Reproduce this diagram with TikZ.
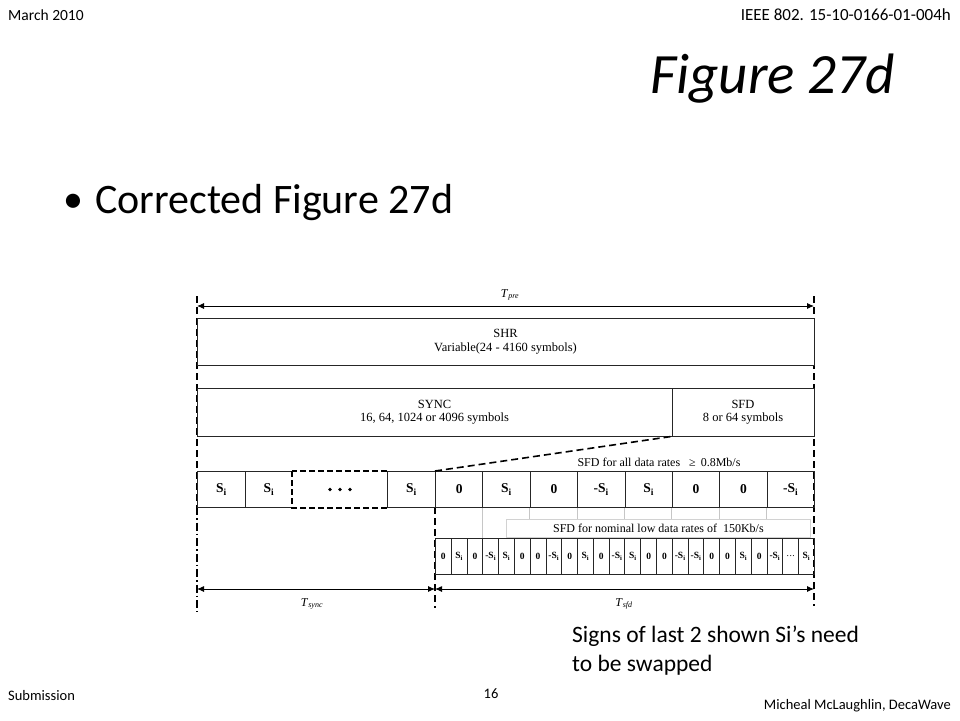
\documentclass[tikz,border=0pt]{standalone}
\usepackage{fontspec}
\setmainfont{Liberation Serif}
\newfontfamily\slidefont{Carlito}
\usetikzlibrary{arrows.meta}
\newcommand\fs[1]{\fontsize{#1}{#1}\selectfont}
\newcommand\Si{\textbf{S}\textsubscript{\textbf{i}}}
\newcommand\mSi{\textbf{-S}\textsubscript{\textbf{i}}}
\newcommand\celldots{{\mdseries .\kern0.5pt.\kern0.5pt.}}
\begin{document}
\begin{tikzpicture}[x=1pt,y=-1pt,
  frame/.style={draw=black!85,line width=0.9pt,inner sep=0pt,align=center,font=\fs{12.5}},
  cell/.style={draw=black!85,line width=0.9pt,inner sep=0pt,minimum height=36pt,anchor=north west,font=\fs{13.5}\bfseries},
  smallcell/.style={draw=black!85,line width=0.9pt,inner sep=0pt,minimum height=36pt,minimum width=15.79pt,anchor=north west,font=\fs{9.5}\bfseries},
  dline/.style={line width=1.6pt,dash pattern=on 7pt off 4pt},
  dimarrow/.style={line width=0.9pt,{Latex[length=7pt,width=6pt]}-{Latex[length=7pt,width=6pt]}},
  slide/.style={inner sep=0pt,font=\slidefont},
  lbl/.style={inner sep=0pt,font=\fs{12}}
]
\fill[white] (0,0) rectangle (960,720);
\useasboundingbox (0,0) rectangle (960,720);

% slide texts
\node[slide,anchor=base west,font=\slidefont\fs{15.5}] (date) at (8,20) {March 2010};
\node[slide,anchor=base east,font=\slidefont\fs{17}] (doc) at (951,20) {IEEE 802. 15-10-0166-01-004h};
\node[slide,anchor=base west,font=\slidefont\itshape\fs{57}] (title) at (650,93) {Figure 27d};
\node[slide,anchor=base west,font=\slidefont\fs{40}] (bullet) at (63,212) {•};
\node[slide,anchor=base west,font=\slidefont\fs{42}] (point) at (95,213) {Corrected Figure 27d};
\node[slide,anchor=base west,font=\slidefont\fs{23.5}] (note1) at (572,642) {Signs of last 2 shown Si’s need};
\node[slide,anchor=base west,font=\slidefont\fs{23.5}] (note2) at (572,671) {to be swapped};
\node[slide,anchor=base west,font=\slidefont\fs{14.5}] (sub) at (8,700) {Submission};
\node[slide,anchor=base,font=\slidefont\fs{14.5}] (page) at (491,698) {16};
\node[slide,anchor=base east,font=\slidefont\fs{14.5}] (auth) at (951,709) {Micheal McLaughlin, DecaWave};

% boundary coordinates
\coordinate (Ltop) at (197,296);
\coordinate (Lbot) at (197,612);
\coordinate (Rtop) at (814,296);
\coordinate (Rbot) at (814,606);
\coordinate (Mtop) at (435,507);
\coordinate (Mbot) at (435,608);

% vertical guide lines
\draw[line width=1.4pt,dash pattern=on 7pt off 4pt] (Ltop) -- (197,507);
\draw[line width=1.2pt,dash pattern=on 8pt off 3pt on 1.5pt off 3pt] (197,507) -- (Lbot);
\draw[dline] (Rtop) -- (Rbot);
\draw[dline] (Mtop) -- (Mbot);

% T_pre
\coordinate (preL) at (197,306);
\coordinate (preR) at (814,306);
\draw[dimarrow] (preL) -- (preR);
\node[lbl] (tpre) at (510,295) {\textit{T}\textsubscript{\textit{pre}}};

% SHR
\node[frame,fill=white,minimum width=617pt,minimum height=47pt] (shr) at (505.5,341.5) {SHR\\[1pt]Variable(24 - 4160 symbols)};
% SYNC / SFD
\node[frame,fill=white,minimum width=475pt,minimum height=48pt] (sync) at (434.5,412) {SYNC\\[1pt]16, 64, 1024 or 4096 symbols};
\node[frame,fill=white,minimum width=142pt,minimum height=48pt] (sfd) at (743,412) {SFD\\[1pt]8 or 64 symbols};

% SYNC symbols row
\node[cell,fill=white,minimum width=48pt] (c1) at (197,471) {\Si};
\node[cell,fill=white,minimum width=47pt] (c2) at (245,471) {\Si};
\node[cell,fill=white,draw=none,minimum width=95pt] (c3) at (292,471) {};
\draw[line width=1.6pt,dash pattern=on 6pt off 3pt] (c3.north west) rectangle (c3.south east);
\foreach \dx in {-10,0,10}
  \fill (c3.center) ++(\dx,0) circle[radius=1.9pt];
\node[cell,fill=white,minimum width=48pt] (c4) at (387,471) {\Si};

% SFD symbols row
\foreach \t [count=\k] in {0,\Si,0,\mSi,\Si,0,0,\mSi}
  \node[cell,minimum width=47.375pt] (f\k) at ({435+(\k-1)*47.375},471) {\t};

% expansion line
\draw[dline] (f1.north west) -- (sfd.south west);
\node[lbl,anchor=base] (sfdall) at (659,466) {SFD for all data rates \ \ ≥ \,0.8Mb/s};

% low-rate row
\foreach \t [count=\k] in {0,\Si,0,\mSi,\Si,0,0,\mSi,0,\Si,0,\mSi,\Si,0,0,\mSi,\mSi,0,0,\Si,0,\mSi,\celldots,\Si}
  \node[smallcell] (s\k) at ({435+(\k-1)*15.79},538) {\t};

% gray guide lines and low-rate label box
\draw[gray!45,line width=1pt] (f2.south west) -- (f2.south west |- s1.north);
\foreach \k in {3,4,5,6,7,8}
  \draw[gray!45,line width=1pt] (f\k.south west) -- ++(0,11);
\node[draw=gray!35,line width=0.8pt,fill=white,inner sep=0pt,minimum width=304pt,minimum height=18pt,anchor=north west,font=\fs{12}] (lowlbl) at (506,519) {SFD for nominal low data rates of \ 150Kb/s};

% bottom dimension arrows
\coordinate (syncL) at (197,589);
\coordinate (syncR) at (435,589);
\coordinate (sfdR) at (814,589);
\draw[dimarrow] (syncL) -- (syncR);
\draw[dimarrow] (syncR) -- (sfdR);
\node[lbl] (tsync) at (312,604) {\textit{T}\textsubscript{\textit{sync}}};
\node[lbl] (tsfd) at (624,604) {\textit{T}\textsubscript{\textit{sfd}}};
\end{tikzpicture}
\end{document}
